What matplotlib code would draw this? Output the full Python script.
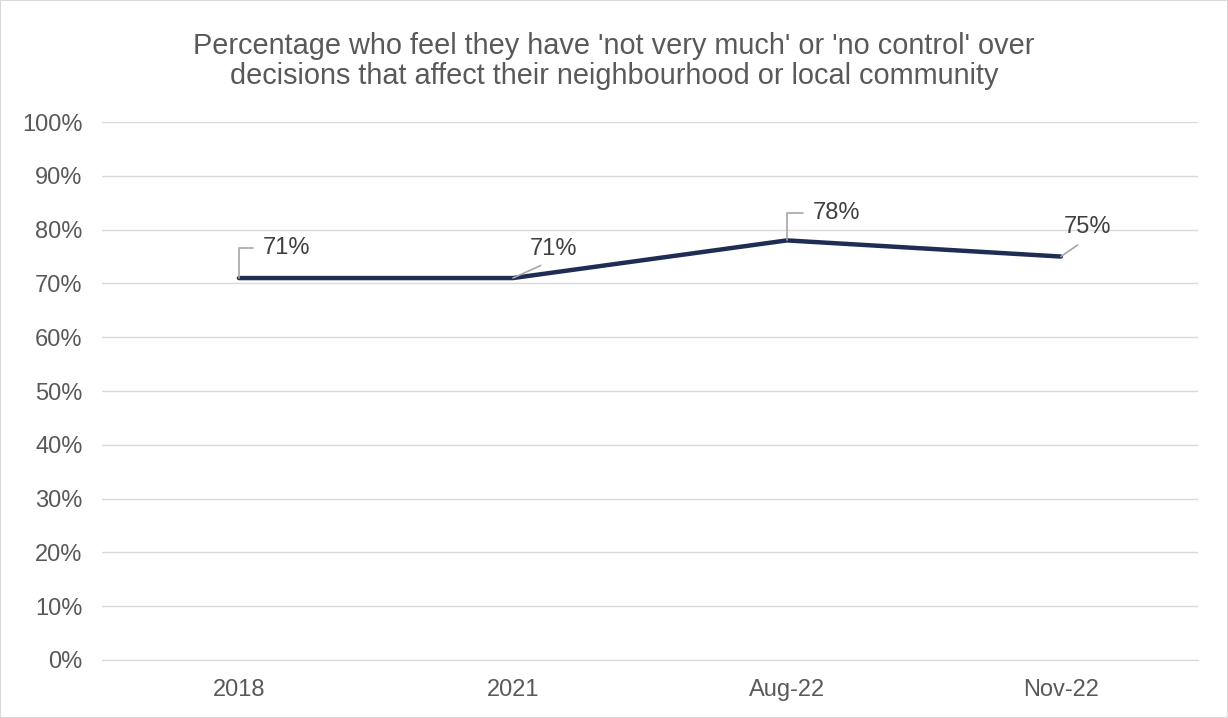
import matplotlib.pyplot as plt
from matplotlib.patches import Rectangle

plt.rcParams['font.family'] = ['Liberation Sans', 'DejaVu Sans']

# data
categories = ['2018', '2021', 'Aug-22', 'Nov-22']
values = [71, 71, 78, 75]
title = ("Percentage who feel they have 'not very much' or 'no control' over\n"
         "decisions that affect their neighbourhood or local community")

# label offsets in points (dx, dy) and leader style per point
label_offsets = [(34, 22), (29, 21), (36, 20), (19, 21)]
leader_styles = ['angle', 'straight', 'angle', 'straight']

fig = plt.figure(figsize=(12.28, 7.18), dpi=100)
ax = fig.add_axes([0.083, 0.0808, 0.8925, 0.7492])

x = list(range(len(categories)))
ax.plot(x, values, color='#1F2D55', linewidth=3.2, solid_capstyle='round',
        solid_joinstyle='round', zorder=3)

ax.set_xlim(-0.5, len(categories) - 0.5)
ax.set_ylim(0, 100)
ax.set_yticks(range(0, 101, 10))
ax.set_yticklabels([f'{t}%' for t in range(0, 101, 10)])
ax.set_xticks(x)
ax.set_xticklabels(categories)
ax.tick_params(axis='both', length=0, labelsize=17, colors='#595959')
ax.tick_params(axis='y', pad=14)
ax.tick_params(axis='x', pad=14)
ax.grid(axis='y', color='#D9D9D9', linewidth=1)
ax.set_axisbelow(True)
for s in ['top', 'right', 'left']:
    ax.spines[s].set_visible(False)
ax.spines['bottom'].set_color('#D9D9D9')

for xi, v, (dx, dy), st in zip(x, values, label_offsets, leader_styles):
    if st == 'angle':
        cs = 'angle,angleA=0,angleB=90,rad=0'
    else:
        cs = 'arc3'
    ax.annotate(f'{v}%', xy=(xi, v), xytext=(dx, dy), textcoords='offset points',
                ha='center', va='center', fontsize=17, color='#404040',
                arrowprops=dict(arrowstyle='-', color='#A6A6A6', lw=1.2,
                                connectionstyle=cs, shrinkA=5, shrinkB=0,
                                relpos=(0, 0.5) if st == 'angle' else (0.5, 0)))

fig.text(0.5, 0.915, title, ha='center', va='center', fontsize=20.8,
         color='#595959', linespacing=1.08)

fig.patches.append(Rectangle((0, 0), 1, 1, transform=fig.transFigure,
                             fill=False, edgecolor='#D9D9D9', linewidth=1.5))

fig.savefig('out.png', dpi=100)
